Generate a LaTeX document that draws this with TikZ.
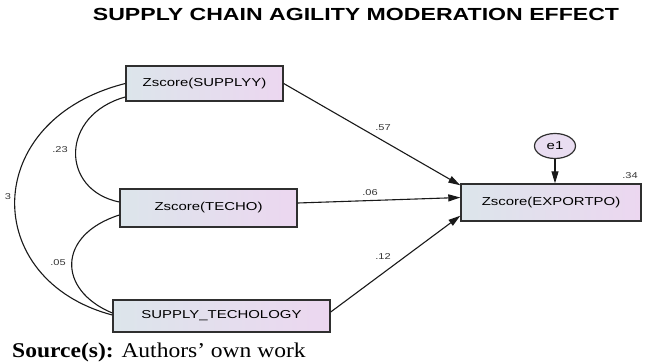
\documentclass[tikz,border=0pt]{standalone}
\usepackage{fontspec}
\setmainfont{Liberation Serif}
\newfontfamily\arialf{Liberation Sans}
\usetikzlibrary{arrows.meta,shapes.geometric}
\definecolor{boxL}{HTML}{DCE5EB}
\definecolor{boxR}{HTML}{ECD7F0}
\definecolor{edgeC}{HTML}{2F2F2F}
\definecolor{eFill}{HTML}{E9DDF1}
\newcommand{\sx}[1]{\scalebox{1.3}[1]{#1}}
\begin{document}
\begin{tikzpicture}[x=1pt,y=-1pt,
  var/.style={draw=edgeC, line width=1.4pt, left color=boxL, right color=boxR, inner sep=0pt, font=\arialf\fontsize{11.5}{13}\selectfont},
  lbl/.style={font=\arialf\fontsize{8.5}{10}\selectfont, inner sep=0pt, text=black!80},
  regpath/.style={line width=1.1pt, draw=black!90, -{Triangle[length=12pt,width=7pt]}},
  cov/.style={line width=1.1pt, draw=black!90}]
\useasboundingbox (0,0) rectangle (646,362);

\node (title) at (356,14) {\scalebox{1.32}[1]{\arialf\bfseries\fontsize{17.5}{20}\selectfont SUPPLY CHAIN AGILITY MODERATION EFFECT}};

\node[var, minimum width=157pt, minimum height=35pt] (sup) at (204.5,83.5) {\sx{Zscore(SUPPLYY)}};
\node[var, minimum width=177pt, minimum height=38pt] (te) at (208.5,208) {\sx{Zscore(TECHO)}};
\node[var, minimum width=217pt, minimum height=32pt] (st) at (221.5,316) {\sx{SUPPLY\_TECHOLOGY}};
\node[var, minimum width=180pt, minimum height=37pt] (ex) at (551,202.5) {\sx{Zscore(EXPORTPO)}};

\node[draw=edgeC, line width=1.2pt, ellipse, fill=eFill, minimum width=41pt, minimum height=25pt, inner sep=0pt, font=\arialf\fontsize{11.5}{13}\selectfont] (e1) at (555,146) {\sx{e1}};

\draw[regpath] (sup.east) -- ([yshift=-2pt]ex.north west);
\draw[regpath] ([yshift=5pt]te.east) -- ([yshift=5pt]ex.west);
\draw[regpath] ([yshift=4pt]st.east) -- ([yshift=6pt]ex.south west);
\draw[regpath] (e1.south) -- (e1.south |- ex.north);

\draw[cov] ([yshift=-13.5pt]sup.west) .. controls (60,115) and (60,190) .. ([yshift=6pt]te.west);
\draw[cov] (sup.west) .. controls (-20,120) and (-20,280) .. ([yshift=1pt]st.west);
\draw[cov] ([yshift=-7pt]te.west) .. controls (57,235) and (57,290) .. ([yshift=3pt]st.west);

\node[lbl] (l57) at (383,128) {\sx{.57}};
\node[lbl] (l06) at (370,193) {\sx{.06}};
\node[lbl] (l12) at (383,257) {\sx{.12}};
\node[lbl] (l34) at (630,176) {\sx{.34}};
\node[lbl] (l23) at (60,150) {\sx{.23}};
\node[lbl] (l05) at (58,263) {\sx{.05}};
\node[lbl] (l3) at (8,197) {\sx{3}};

\node[anchor=base west, inner sep=0pt] (src) at (12,357) {\scalebox{1.12}[1]{\fontsize{21}{24}\selectfont\textbf{Source(s):} Authors’ own work}};
\end{tikzpicture}
\end{document}
